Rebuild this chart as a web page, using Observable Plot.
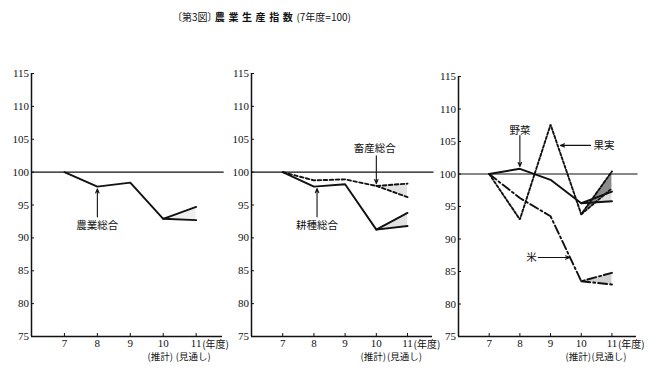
<!DOCTYPE html>
<html><head><meta charset="utf-8">
<script src="https://cdn.jsdelivr.net/npm/d3@7"></script>
<script src="https://cdn.jsdelivr.net/npm/@observablehq/plot@0.6"></script>
<style>
body{margin:0;background:#fff;}
#wrap{position:relative;width:660px;height:372px;overflow:hidden;background:#fff;}
#wrap svg{position:absolute;left:0;top:0;}
#wrap svg g[aria-label="y-axis tick label"], #wrap svg g[aria-label="x-axis tick label"],
#wrap svg g[aria-label="y-axis tick label"] text, #wrap svg g[aria-label="x-axis tick label"] text{font-family:"Liberation Serif", "Times New Roman", "DejaVu Serif", serif !important;}
#title{position:absolute;left:177px;top:10px;font-family:"Noto Sans CJK JP";font-size:10px;line-height:14px;white-space:nowrap;font-feature-settings:"palt";color:#111;}
#title b{letter-spacing:3.6px;}
</style></head><body>
<div id="wrap"><div id="title">〔第3図〕 <b>農業生産指数</b>(7年度=100)</div></div>
<script>
// ---- data ----
const years = [7, 8, 9, 10, 11];
const yTicks = [75, 80, 85, 90, 95, 100, 105, 110, 115];
const yearNotes = ["(推計)", "(見通し)"];   // under 10 and 11
const yearUnit = ["(年度)"];

// panel 1
const farmTotal = [100, 97.8, 98.4, 92.9];     // 7..10
const farmTotal11 = [94.7, 92.7];              // 11: high, low
// panel 2
const cropTotal = [100, 97.8, 98.15, 91.25];
const cropTotal11 = [93.8, 91.8];
const livestockTotal = [100, 98.75, 98.9, 97.9];
const livestockTotal11 = [98.25, 96.2];
// panel 3
const vegetables = [100, 100.8, 99.1, 95.5];
const vegetables11 = [97.3, 95.8];
const fruit = [100, 93.0, 107.6, 93.8];
const fruit11 = [100.4, 97.8];
const rice = [100, 96.3, 93.5, 83.5];
const rice11 = [84.8, 83.0];

const JP = "'Noto Sans CJK JP', sans-serif";
const SERIF = "Liberation Serif";
const INK = "#111";

function seriesParts(vals, v11, dash, shade) {
  const upper = years.map((x, i) => ({x, y: i < vals.length ? vals[i] : v11[0]}));
  const lower = [{x: years[3], y: vals[3]}, {x: years[4], y: v11[1]}];
  const band = [{x: years[3], lo: vals[3], hi: vals[3]}, {x: years[4], lo: v11[1], hi: v11[0]}];
  const ls = {x: "x", y: "y", stroke: INK, strokeWidth: 1.9, strokeDasharray: dash, strokeLinejoin: "miter"};
  return {
    area: Plot.areaY(band, {x: "x", y1: "lo", y2: "hi", fill: shade}),
    lines: [Plot.line(upper, ls), Plot.line(lower, ls)]
  };
}

function label(txt, x, y, opts = {}) {
  return Plot.text([txt], {x: () => x, y: () => y, text: d => d, fontFamily: JP, fontSize: 10.5, fill: INK, ...opts});
}
function arrow(x1, y1, x2, y2) {
  return Plot.arrow([0], {x1: () => x1, y1: () => y1, x2: () => x2, y2: () => y2,
    stroke: INK, strokeWidth: 1.1, headLength: 6, headAngle: 45});
}

function panel({left, right, top, series, notes}) {
  const parts = series.map(s => seriesParts(...s));
  return Plot.plot({
    width: 660, height: 372,
    marginLeft: left, marginRight: 660 - right, marginTop: top, marginBottom: 36,
    x: {domain: [6, 11.8]},
    y: {domain: [75, 115]},
    style: {background: "transparent", overflow: "visible", color: INK},
    marks: [
      ...parts.map(p => p.area),
      Plot.ruleY([100], {x1: 6, x2: 11.85, stroke: INK, strokeWidth: 1.2}),
      Plot.ruleX([6], {y1: 75, y2: 115, stroke: INK, strokeWidth: 1.5}),
      Plot.ruleY([75], {x1: 6, x2: 11.8, stroke: INK, strokeWidth: 1.5}),
      Plot.axisY({ticks: yTicks, tickFormat: d => String(d), tickSize: -3, tickPadding: 5.5, label: null, fontSize: 11, fontFamily: SERIF}),
      Plot.axisX({ticks: years, tickFormat: d => String(d), tickSize: -3, tickPadding: 5.5, label: null, fontSize: 11, fontFamily: SERIF}),
      Plot.text(yearUnit, {x: () => years[4], y: () => 75, text: d => d, dx: 6, dy: 8, textAnchor: "start", fontFamily: JP, fontSize: 10, fill: INK}),
      Plot.text(yearNotes, {x: (d, i) => years[3 + i], y: () => 75, text: d => d, dx: -3, dy: 20.5, fontFamily: JP, fontSize: 9.5, fill: INK}),
      ...parts.flatMap(p => p.lines),
      ...notes
    ]
  });
}

const wrap = document.getElementById("wrap");

wrap.append(panel({
  left: 31, right: 222, top: 73,
  series: [[farmTotal, farmTotal11, null, "#efefef"]],
  notes: [
    arrow(years[1], farmTotal[1] - 4.6, years[1], farmTotal[1] - 0.35),
    label("農業総合", years[1], farmTotal[1] - 5.9)
  ]
}));

wrap.append(panel({
  left: 251, right: 432, top: 73,
  series: [
    [cropTotal, cropTotal11, null, "#e2e2e2"],
    [livestockTotal, livestockTotal11, "3.5,2.5", "#e2e2e2"]
  ],
  notes: [
    arrow(years[1] + 0.1, cropTotal[1] - 4.6, years[1] + 0.1, cropTotal[1] - 0.3),
    label("耕種総合", years[1] + 0.1, cropTotal[1] - 5.9),
    arrow(years[3], livestockTotal[3] + 4.6, years[3], livestockTotal[3] + 0.35),
    label("畜産総合", years[3] - 0.05, livestockTotal[3] + 5.7)
  ]
}));

wrap.append(panel({
  left: 458, right: 636, top: 76,
  series: [
    [vegetables, vegetables11, null, "#dcdcdc"],
    [fruit, fruit11, "2.5,2", "#8c8c8c"],
    [rice, rice11, "9,3,2,3", "#cfcfcf"]
  ],
  notes: [
    arrow(years[1], vegetables[1] + 5.1, years[1], vegetables[1] + 0.35),
    label("野菜", years[1], vegetables[1] + 5.8),
    arrow(10.3, 104.4, 9.32, 104.4),
    label("果実", 10.4, 104.4, {textAnchor: "start"}),
    arrow(8.6, 87.15, 9.62, 87.15),
    label("米", 8.55, 87.15, {textAnchor: "end"})
  ]
}));
</script>
</body></html>
